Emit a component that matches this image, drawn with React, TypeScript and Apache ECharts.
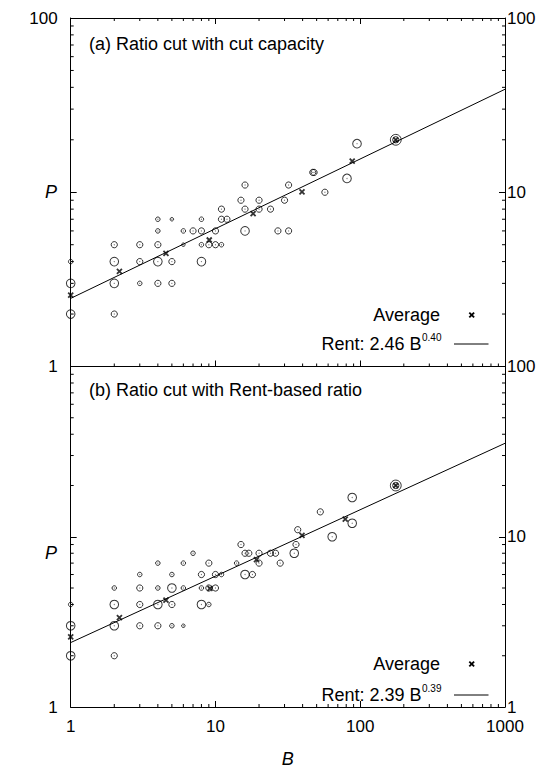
import React, { useEffect, useRef } from "react";
import * as echarts from "echarts";

// ---------- data ----------
// [B, P, size class]
const pointsA: number[][] = [
  [1, 4, 2], [1, 3, 4], [1, 2, 4],
  [2, 5, 3], [2, 4, 4], [2, 3, 4], [2, 2, 3],
  [3, 5, 3], [3, 4, 3], [3, 3, 2],
  [4, 7, 2], [4, 6, 2], [4, 5, 3], [4, 4, 4], [4, 3, 3],
  [5, 7, 1], [5, 4, 3], [5, 3, 3],
  [6, 6, 2], [6, 5, 1],
  [7, 6, 3],
  [8, 7, 2], [8, 6, 3], [8, 5, 2], [8, 4, 4],
  [9, 5, 3],
  [10, 6, 3], [10, 5, 3],
  [11, 8, 3], [11, 7, 3], [11, 5, 2],
  [12, 7, 3],
  [15, 9, 3],
  [16, 11, 3], [16, 8, 3], [16, 6, 4],
  [20, 9, 3], [20, 8, 3],
  [24, 8, 3],
  [27, 6, 3],
  [30, 9, 3],
  [32, 11, 3], [32, 6, 3],
  [47, 13, 3], [48, 13, 3],
  [57, 10, 3],
  [81, 12, 4],
  [95, 19, 4],
  [176, 20, 5], [176, 20, 3],
];
const averagesA: number[][] = [
  [1, 2.57], [2.17, 3.52], [4.55, 4.46], [9.06, 5.32],
  [18.2, 7.55], [39.6, 10.04], [88, 15.1], [176, 20],
];
const rentA: number[][] = [[1, 2.46], [1000, 39.0]];

const pointsB: number[][] = [
  [1, 4, 2], [1, 3, 4], [1, 2, 4],
  [2, 5, 2], [2, 4, 4], [2, 3, 4], [2, 2, 3],
  [3, 6, 2], [3, 5, 3], [3, 4, 3], [3, 3, 3],
  [4, 7, 2], [4, 5, 2], [4, 4, 4], [4, 3, 3],
  [5, 6, 2], [5, 5, 4], [5, 4, 3], [5, 3, 2],
  [6, 7, 2], [6, 5, 2], [6, 3, 1],
  [7, 8, 2],
  [8, 6, 3], [8, 5, 2], [8, 4, 4],
  [9, 7, 3], [9, 5, 3], [9, 4, 2],
  [10, 6, 3], [10, 5, 3],
  [11, 6, 2],
  [14, 7, 2],
  [15, 9, 3],
  [16, 8, 3], [16, 6, 4],
  [17, 8, 3],
  [18, 6, 3],
  [20, 8, 3], [20, 7, 3],
  [24, 8, 3], [26, 8, 3], [28, 7, 3],
  [35, 8, 4], [36, 9, 3], [37, 11, 3],
  [53, 14, 3],
  [64, 10, 4],
  [88, 17, 4], [88, 12, 4],
  [176, 20, 5], [176, 20, 3],
];
const averagesB: number[][] = [
  [1, 2.58], [2.17, 3.35], [4.55, 4.25], [9.16, 4.98],
  [19.2, 7.33], [39.6, 10.2], [78.8, 12.7], [176, 20],
];
const rentB: number[][] = [[1, 2.39], [1000, 35.4]];

const xMinorTicks = [2, 3, 4, 5, 6, 7, 8, 9, 20, 30, 40, 50, 60, 70, 80, 90, 200, 300, 400, 500, 600, 700, 800, 900];
const yMinorTicks = [2, 3, 4, 5, 6, 7, 8, 9, 20, 30, 40, 50, 60, 70, 80, 90];

// tick labels shown on each y axis (others hidden, as in the reference)
const leftLabelsA = [1, 100];
const rightLabelsA = [10, 100];
const leftLabelsB = [1];
const rightLabelsB = [1, 10, 100];

const panelTitles = ["(a) Ratio cut with cut capacity", "(b) Ratio cut with Rent-based ratio"];
const rentText = ["Rent: 2.46 B", "Rent: 2.39 B"];
const rentExp = ["0.40", "0.39"];
const averageText = "Average";
const xName = "B";
const yName = "P";

// ---------- styling ----------
const FONT = "'Liberation Sans', Arial, Helvetica, sans-serif";
const SIZE = [0, 3.5, 4.5, 6.2, 8.6, 10.8];
const LEFT = 70.7;
const RIGHT_X = 505;
const TOP_A = 18;
const MID = 366.5;
const BOT = 715;

function minorTickSeries(xAxisIndex: number, yAxisIndex: number, withTop: boolean) {
  const data: number[][] = [];
  xMinorTicks.forEach((v) => data.push([v, 1, 1]));
  yMinorTicks.forEach((v) => data.push([1, v, 2]));
  return {
    type: "custom",
    xAxisIndex,
    yAxisIndex,
    silent: true,
    z: 10,
    data,
    renderItem: (params: any, api: any) => {
      const kind = api.value(2);
      const st = { stroke: "#000", lineWidth: 1 };
      const children: any[] = [];
      if (kind === 1) {
        const v = api.value(0);
        const b = api.coord([v, 1]);
        const t = api.coord([v, 100]);
        children.push({ type: "line", shape: { x1: b[0], y1: b[1], x2: b[0], y2: b[1] - 3 }, style: st });
        if (withTop) {
          children.push({ type: "line", shape: { x1: t[0], y1: t[1], x2: t[0], y2: t[1] + 3 }, style: st });
        }
      } else {
        const v = api.value(1);
        const l = api.coord([1, v]);
        const r = api.coord([1000, v]);
        children.push({ type: "line", shape: { x1: l[0], y1: l[1], x2: l[0] + 3, y2: l[1] }, style: st });
        children.push({ type: "line", shape: { x1: r[0], y1: r[1], x2: r[0] - 3, y2: r[1] }, style: st });
      }
      return { type: "group", children };
    },
  };
}

function panelSeries(points: number[][], averages: number[][], rent: number[][], xi: number, yi: number, withTop: boolean) {
  return [
    {
      type: "scatter",
      xAxisIndex: xi,
      yAxisIndex: yi,
      data: points,
      symbol: "circle",
      symbolSize: (v: number[]) => SIZE[v[2]],
      itemStyle: { color: "rgba(0,0,0,0)", borderColor: "#000", borderWidth: 1 },
      z: 3,
      silent: true,
    },
    {
      type: "scatter",
      xAxisIndex: xi,
      yAxisIndex: yi,
      data: points,
      symbol: "circle",
      symbolSize: 1.2,
      itemStyle: { color: "#555" },
      z: 4,
      silent: true,
    },
    {
      type: "line",
      xAxisIndex: xi,
      yAxisIndex: yi,
      data: rent,
      symbol: "none",
      showSymbol: false,
      lineStyle: { color: "#000", width: 1 },
      z: 2,
      silent: true,
    },
    {
      type: "scatter",
      xAxisIndex: xi,
      yAxisIndex: yi,
      data: averages,
      symbol: "path://M0,0L10,10M10,0L0,10",
      symbolSize: 5,
      itemStyle: { color: "rgba(0,0,0,0)", borderColor: "#000", borderWidth: 1.8 },
      z: 5,
      silent: true,
    },
    minorTickSeries(xi, yi, withTop),
  ];
}

function legendGraphics(avgY: number, rentY: number, idx: number) {
  const st = { stroke: "#000", lineWidth: 1.8 };
  const mx = 471.7;
  const d = 2.4;
  return [
    {
      type: "text",
      x: 440,
      y: avgY,
      style: { text: averageText, font: `18px ${FONT}`, fill: "#000", align: "right", verticalAlign: "middle" },
    },
    { type: "line", shape: { x1: mx - d, y1: avgY - d, x2: mx + d, y2: avgY + d }, style: st },
    { type: "line", shape: { x1: mx - d, y1: avgY + d, x2: mx + d, y2: avgY - d }, style: st },
    {
      type: "text",
      x: 421.5,
      y: rentY,
      style: { text: rentText[idx], font: `18px ${FONT}`, fill: "#000", align: "right", verticalAlign: "middle" },
    },
    {
      type: "text",
      x: 422,
      y: rentY - 7,
      style: { text: rentExp[idx], font: `10px ${FONT}`, fill: "#000", align: "left", verticalAlign: "middle" },
    },
    { type: "line", shape: { x1: 454, y1: rentY, x2: 488.5, y2: rentY }, style: { stroke: "#000", lineWidth: 1 } },
  ];
}

export default function App() {
  const ref = useRef<HTMLDivElement>(null);
  useEffect(() => {
    document.body.style.margin = "0";
    if (!ref.current) return;
    const chart = echarts.init(ref.current, undefined, { renderer: "svg" });

    const axisLine = { show: true, onZero: false, lineStyle: { color: "#000", width: 1 } };
    const axisTick = { show: true, inside: true, length: 6, lineStyle: { color: "#000", width: 1 } };
    const labelStyle = { color: "#000", fontSize: 17, fontFamily: FONT };
    const fmt = (v: number) => String(Math.round(v));
    const only = (list: number[]) => (v: number) => (list.indexOf(Math.round(v)) >= 0 ? fmt(v) : "");

    const xBase = {
      type: "log",
      logBase: 10,
      min: 1,
      max: 1000,
      axisLine,
      axisTick,
      splitLine: { show: false },
      minorTick: { show: false },
    };
    const yBase = {
      type: "log",
      logBase: 10,
      min: 1,
      max: 100,
      axisLine,
      axisTick,
      splitLine: { show: false },
      minorTick: { show: false },
    };

    const option: any = {
      animation: false,
      backgroundColor: "#fff",
      grid: [
        { left: LEFT, top: TOP_A, width: RIGHT_X - LEFT, height: MID - TOP_A, containLabel: false },
        { left: LEFT, top: MID, width: RIGHT_X - LEFT, height: BOT - MID, containLabel: false },
      ],
      xAxis: [
        { ...xBase, gridIndex: 0, position: "bottom", axisLabel: { show: false } },
        { ...xBase, gridIndex: 0, position: "top", axisLabel: { show: false } },
        {
          ...xBase,
          gridIndex: 1,
          position: "bottom",
          axisLabel: { ...labelStyle, margin: 11, formatter: fmt },
          name: xName,
          nameLocation: "middle",
          nameGap: 43,
          nameTextStyle: { color: "#000", fontSize: 18, fontStyle: "italic", fontFamily: FONT },
        },
      ],
      yAxis: [
        { ...yBase, gridIndex: 0, position: "left", axisLabel: { ...labelStyle, margin: 13, formatter: only(leftLabelsA) } },
        { ...yBase, gridIndex: 0, position: "right", axisLabel: { ...labelStyle, margin: 2, formatter: only(rightLabelsA) } },
        { ...yBase, gridIndex: 1, position: "left", axisLabel: { ...labelStyle, margin: 13, formatter: only(leftLabelsB) } },
        { ...yBase, gridIndex: 1, position: "right", axisLabel: { ...labelStyle, margin: 2, formatter: only(rightLabelsB) } },
      ],
      series: [
        ...panelSeries(pointsA, averagesA, rentA, 0, 0, true),
        ...panelSeries(pointsB, averagesB, rentB, 2, 2, false),
      ],
      graphic: [
        {
          type: "text",
          x: 89,
          y: 43.5,
          style: { text: panelTitles[0], font: `18px ${FONT}`, fill: "#000", align: "left", verticalAlign: "middle" },
        },
        {
          type: "text",
          x: 89,
          y: 390,
          style: { text: panelTitles[1], font: `18px ${FONT}`, fill: "#000", align: "left", verticalAlign: "middle" },
        },
        {
          type: "text",
          x: 51,
          y: 192,
          style: { text: yName, font: `italic 18px ${FONT}`, fill: "#000", align: "center", verticalAlign: "middle" },
        },
        {
          type: "text",
          x: 51,
          y: 553,
          style: { text: yName, font: `italic 18px ${FONT}`, fill: "#000", align: "center", verticalAlign: "middle" },
        },
        ...legendGraphics(315, 344, 0),
        ...legendGraphics(664, 695, 1),
      ],
    };
    chart.setOption(option);
    return () => chart.dispose();
  }, []);
  return <div ref={ref} style={{ width: 540, height: 769 }} />;
}
